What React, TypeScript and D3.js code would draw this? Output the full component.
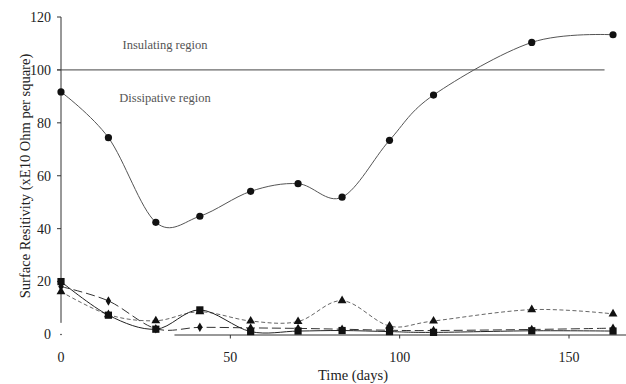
import React from 'react';
import * as d3 from 'd3';

// sampling days
const days = [0, 14, 28, 41, 56, 70, 83, 97, 110, 139, 163];

// surface resistivity (xE10 ohm per square)
const circleSeries = [91.7, 74.4, 42.4, 44.7, 54.1, 57.0, 51.9, 73.4, 90.5, 110.4, 113.3];
const squareSeries = [20.0, 7.3, 2.0, 9.3, 1.1, 1.3, 1.5, 1.1, 0.8, 1.4, 1.3];
const triangleSeries = [16.2, 7.5, 5.2, 8.6, 5.1, 4.9, 12.8, 3.2, 5.1, 9.4, 7.8];
const diamondSeries = [18.1, 12.7, 2.2, 2.7, 2.5, 2.3, 2.0, 1.6, 1.5, 1.9, 2.4];

const xTicks = [0, 50, 100, 150];
const yTicks = [0, 20, 40, 60, 80, 100, 120];
const thresholdValue = 100;

const W = 626;
const H = 384;
const FONT = '"Liberation Serif", "DejaVu Serif", serif';

const x = d3.scaleLinear().domain([0, 150]).range([61, 569]);
const y = d3.scaleLinear().domain([0, 120]).range([334.5, 17]);

const line = d3
  .line<[number, number]>()
  .x(d => x(d[0]))
  .y(d => y(d[1]))
  .curve(d3.curveCardinal.tension(0));

const pts = (vals: number[]) => days.map((d, i) => [d, vals[i]] as [number, number]);

const Marker = ({ kind, cx, cy }: { kind: string; cx: number; cy: number }) => {
  if (kind === 'circle') return <circle cx={cx} cy={cy} r={3.6} fill="#111" />;
  if (kind === 'square') return <rect x={cx - 3.6} y={cy - 3.6} width={7.2} height={7.2} fill="#111" />;
  if (kind === 'triangle') {
    const sym = d3.symbol(d3.symbolTriangle, 34)();
    return <path d={sym || ''} transform={`translate(${cx},${cy})`} fill="#111" />;
  }
  const sym = d3.symbol(d3.symbolDiamond, 26)();
  return <path d={sym || ''} transform={`translate(${cx},${cy})`} fill="#111" />;
};

const series = [
  { vals: diamondSeries, kind: 'diamond', stroke: '#333', dash: '9,4' },
  { vals: triangleSeries, kind: 'triangle', stroke: '#666', dash: '4,2.5' },
  { vals: squareSeries, kind: 'square', stroke: '#222', dash: undefined },
  { vals: circleSeries, kind: 'circle', stroke: '#555', dash: undefined },
];

export default function App() {
  return (
    <svg width={W} height={H} style={{ position: 'absolute', left: 0, top: 0, background: '#fff' }}>
      {/* axes */}
      <line x1={x(0)} x2={x(0)} y1={y(120)} y2={y(4.4)} stroke="#333" strokeWidth={1} />
      <circle cx={x(0)} cy={y(0)} r={0.8} fill="#333" />
      <line x1={x(33.5)} x2={W} y1={y(0) + 0.5} y2={y(0) + 0.5} stroke="#333" strokeWidth={1} />
      {yTicks.filter(t => t > 0).map(t => (
        <line key={t} x1={x(0) - 4} x2={x(0)} y1={y(t)} y2={y(t)} stroke="#333" strokeWidth={1} />
      ))}
      {xTicks.filter(t => t > 0).map(t => (
        <line key={t} x1={x(t)} x2={x(t)} y1={y(0) + 0.5} y2={y(0) + 4} stroke="#333" strokeWidth={1} />
      ))}
      {yTicks.map(t => (
        <text key={t} x={x(0) - 10} y={y(t)} dy="0.35em" textAnchor="end" fontFamily={FONT} fontSize={14} fill="#222">
          {t}
        </text>
      ))}
      {xTicks.map(t => (
        <text key={t} x={x(t)} y={362} textAnchor="middle" fontFamily={FONT} fontSize={14} fill="#222">
          {t}
        </text>
      ))}
      <text x={353} y={380} textAnchor="middle" fontFamily={FONT} fontSize={14.5} fill="#222">
        Time (days)
      </text>
      <text
        transform={`translate(25,176) rotate(-90)`}
        dy="0.35em"
        textAnchor="middle"
        fontFamily={FONT}
        fontSize={14.5}
        fill="#222"
      >
        Surface Resitivity (xE10 Ohm per square)
      </text>

      {/* threshold line */}
      <line x1={x(0) - 4} x2={x(160.5)} y1={y(thresholdValue)} y2={y(thresholdValue)} stroke="#444" strokeWidth={1} />
      <text x={165} y={49} textAnchor="middle" fontFamily={FONT} fontSize={12.5} fill="#555">
        Insulating region
      </text>
      <text x={165} y={102} textAnchor="middle" fontFamily={FONT} fontSize={12.5} fill="#555">
        Dissipative region
      </text>

      {series.map(s => (
        <g key={s.kind}>
          <path d={line(pts(s.vals)) || ''} fill="none" stroke={s.stroke} strokeWidth={1} strokeDasharray={s.dash} />
          {pts(s.vals).map(([d, v]) => (
            <Marker key={d} kind={s.kind} cx={x(d)} cy={y(v)} />
          ))}
        </g>
      ))}
    </svg>
  );
}
